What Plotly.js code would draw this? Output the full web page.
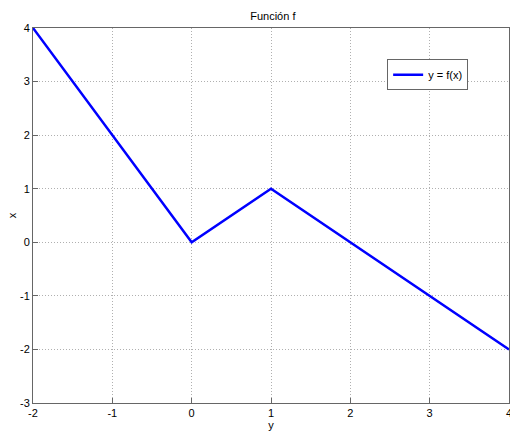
<!DOCTYPE html>
<html><head><meta charset="utf-8">
<script src="https://cdn.plot.ly/plotly-3.0.1.min.js"></script>
<style>html,body{margin:0;padding:0;background:#fff;}#chart{width:510px;height:431px;}</style>
</head><body><div id="chart"></div>
<script>
const xValues = [-2, 0, 1, 4];
const yValues = [4, 0, 1, -2];
const xTicks = [-2, -1, 0, 1, 2, 3, 4];
const xTickLabels = ['-2', '-1', '0', '1', '2', '3', '4'];
const yTicks = [-3, -2, -1, 0, 1, 2, 3, 4];
const yTickLabels = ['-3', '-2', '-1', '0', '1', '2', '3', '4'];
const seriesName = 'y = f(x)';

const font = {family: 'Liberation Sans, Arial, sans-serif', size: 11, color: '#000'};
const axisCommon = {
  showline: true, mirror: true, linecolor: '#666', linewidth: 1,
  ticks: 'inside', ticklen: 5, tickcolor: '#666',
  showgrid: true, gridcolor: '#b0b0b0', griddash: '1px,2px', gridwidth: 1,
  zeroline: false, tickfont: font, ticklabeloverflow: 'allow'
};
Plotly.newPlot('chart', [{
  x: xValues, y: yValues, type: 'scatter', mode: 'lines', name: seriesName,
  line: {color: '#0000ff', width: 2.5}
}], {
  width: 510, height: 431,
  margin: {l: 33, r: 1, t: 28, b: 28},
  paper_bgcolor: '#fff', plot_bgcolor: '#fff',
  font: font,
  title: {text: 'Función f', font: font, x: 0.535, xanchor: 'center', y: 0.963, yanchor: 'middle'},
  xaxis: Object.assign({}, axisCommon, {range: [-2, 4], tickvals: xTicks, ticktext: xTickLabels,
    title: {text: 'y', font: font, standoff: 4}}),
  yaxis: Object.assign({}, axisCommon, {range: [-3, 4], tickvals: yTicks, ticktext: yTickLabels,
    title: {text: 'x', font: font, standoff: 1}}),
  showlegend: true,
  legend: {x: 0.744, y: 0.917, xanchor: 'left', yanchor: 'top', bordercolor: '#666', borderwidth: 1,
    bgcolor: '#fff', font: font, tracegroupgap: 0, itemwidth: 30}
}, {displayModeBar: false});
</script></body></html>
